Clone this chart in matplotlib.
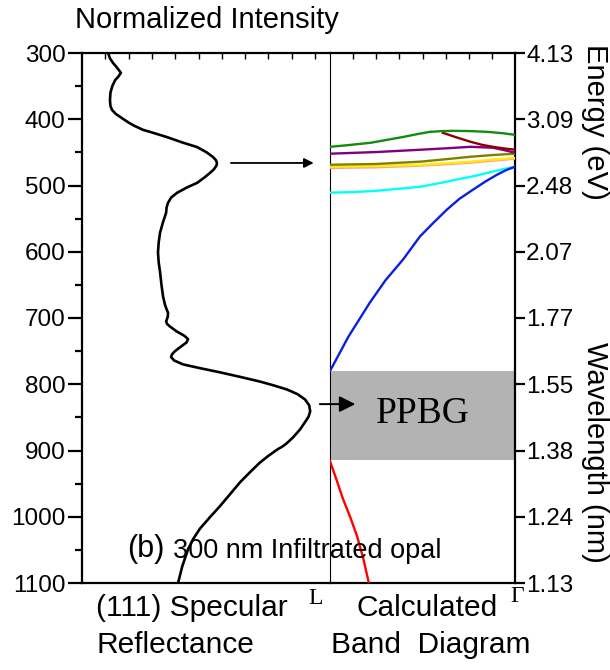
import matplotlib
matplotlib.use("Agg")
import matplotlib.pyplot as plt

plt.rcParams['font.family'] = ['Liberation Sans', 'DejaVu Sans']

# (111) specular reflectance: wavelength (nm) vs normalized intensity
refl_wl = [300, 308, 315, 322, 330, 336, 341, 350, 360, 371, 380, 386, 392, 398,
           405, 410, 416, 421, 427, 435, 442, 450, 457, 462, 466, 470, 476, 481,
           488, 496, 503, 511, 518, 526, 533, 541, 556, 571, 586, 601, 616, 631,
           650, 668, 680, 686, 692, 698, 705, 709, 713, 720, 727, 732, 737, 743,
           750, 755, 759, 764, 770, 776, 782, 789, 796, 802, 808, 815, 823, 832,
           841, 849, 857, 868, 880, 886, 890, 894, 898, 908, 918, 933, 948, 966,
           984, 1001, 1018, 1033, 1049, 1075, 1100]
refl_int = [0.112, 0.120, 0.133, 0.150, 0.167, 0.155, 0.142, 0.130, 0.122, 0.120,
            0.122, 0.129, 0.145, 0.170, 0.200, 0.225, 0.262, 0.310, 0.365, 0.430,
            0.494, 0.535, 0.562, 0.575, 0.579, 0.577, 0.565, 0.549, 0.525, 0.494,
            0.450, 0.408, 0.383, 0.369, 0.363, 0.361, 0.347, 0.335, 0.329, 0.326,
            0.329, 0.335, 0.341, 0.348, 0.356, 0.362, 0.369, 0.368, 0.361, 0.365,
            0.378, 0.405, 0.440, 0.455, 0.448, 0.425, 0.399, 0.386, 0.382, 0.395,
            0.433, 0.510, 0.592, 0.680, 0.764, 0.825, 0.880, 0.925, 0.957, 0.975,
            0.979, 0.972, 0.957, 0.936, 0.906, 0.888, 0.875, 0.860, 0.840, 0.800,
            0.764, 0.720, 0.678, 0.635, 0.592, 0.548, 0.506, 0.478, 0.455, 0.430,
            0.412]

# calculated bands, L (k=0) to Gamma (k=1), wavelength (nm)
green_k = [0, 0.10, 0.22, 0.31, 0.40, 0.47, 0.54, 0.60, 0.66, 0.75, 0.85, 0.93, 1.0]
green_wl = [441.6, 439.0, 435.5, 431.0, 426.5, 422.5, 419.0, 418.0, 417.5, 417.8,
            419.0, 421.0, 423.5]
maroon_k = [0.61, 0.68, 0.76, 0.82, 0.88, 0.94, 1.0]
maroon_wl = [420.5, 427.0, 434.0, 438.5, 441.6, 444.0, 446.0]
purple_k = [0, 0.25, 0.49, 0.62, 0.76, 0.88, 0.94, 1.0]
purple_wl = [452.0, 449.5, 446.0, 444.0, 441.6, 443.0, 446.5, 450.6]
olive_k = [0, 0.25, 0.49, 0.62, 0.76, 0.88, 1.0]
olive_wl = [468.7, 467.5, 464.0, 460.5, 456.6, 454.0, 452.0]
pink_k = [0, 0.25, 0.49, 0.62, 0.76, 0.88, 1.0]
pink_wl = [473.5, 472.5, 470.0, 468.0, 465.5, 462.5, 459.5]
yellow_k = [0, 0.25, 0.49, 0.62, 0.76, 0.88, 1.0]
yellow_wl = [471.7, 470.8, 468.7, 466.5, 464.0, 461.0, 458.3]
cyan_k = [0, 0.12, 0.25, 0.37, 0.49, 0.60, 0.70, 0.76, 0.82, 0.88, 0.94, 1.0]
cyan_wl = [510.8, 510.0, 508.0, 505.0, 501.8, 496.0, 490.0, 487.0, 483.0, 479.0,
           475.0, 471.7]
blue_k = [0, 0.10, 0.216, 0.30, 0.395, 0.486, 0.56, 0.632, 0.70, 0.773, 0.84,
          0.903, 0.95, 1.0]
blue_wl = [780.0, 728.0, 676.5, 643.0, 611.7, 577.0, 556.0, 536.4, 520.0, 506.3,
           494.0, 483.7, 477.0, 471.7]
red_k = [0, 0.035, 0.07, 0.11, 0.146, 0.18, 0.21]
red_wl = [916.0, 944.0, 973.0, 1001.0, 1029.0, 1063.0, 1100.0]
gap_wl = (780, 914)

wl_ticks = [300, 400, 500, 600, 700, 800, 900, 1000, 1100]
energy_labels = ["4.13", "3.09", "2.48", "2.07", "1.77", "1.55", "1.38", "1.24", "1.13"]

W, H = 610, 670
fig = plt.figure(figsize=(W / 100, H / 100), dpi=100)
axL = fig.add_axes([82 / W, 87 / H, (330 - 82) / W, 530 / H])
axR = fig.add_axes([330 / W, 87 / H, 185 / W, 530 / H])
axR.patch.set_alpha(0)

for ax in (axL, axR):
    ax.set_ylim(1100, 300)
    for s in ax.spines.values():
        s.set_linewidth(1.6)
    ax.xaxis.tick_top()
    ax.tick_params(axis="x", direction="in", length=4, width=1.0, labeltop=False)

axL.set_xlim(0, 1.064)
axL.set_xticks([0.1 * i for i in range(1, 11)])
axL.spines["right"].set_linewidth(0.8)
axL.set_yticks(wl_ticks)
axL.set_yticks(range(350, 1100, 100), minor=True)
axL.tick_params(axis="y", which="major", direction="out", length=10, width=1.6, labelsize=17.5, pad=2)
axL.tick_params(axis="y", which="minor", direction="out", length=5, width=1.6)
axL.plot(refl_int, refl_wl, color="black", lw=1.9, solid_joinstyle="round")

axR.set_xlim(0, 1)
axR.set_xticks([i / 8 for i in range(1, 8)])
axR.spines["left"].set_visible(False)
axR.yaxis.tick_right()
axR.set_yticks(wl_ticks)
axR.set_yticklabels(energy_labels)
axR.tick_params(axis="y", direction="out", length=7, width=1.6, labelsize=17.5, pad=1)

axR.axhspan(gap_wl[0], gap_wl[1], xmin=0.005, xmax=0.995, color="#b3b3b3", lw=0, zorder=1)
bands = [(cyan_k, cyan_wl, "#00ffff"), (blue_k, blue_wl, "#0a1ee6"),
         (pink_k, pink_wl, "#ff9aa2"), (yellow_k, yellow_wl, "#ffee00"),
         (olive_k, olive_wl, "#808000"), (purple_k, purple_wl, "#800080"),
         (maroon_k, maroon_wl, "#8b0000"), (green_k, green_wl, "#138a13"),
         (red_k, red_wl, "#ff0000")]
for k, wl, c in bands:
    axR.plot(k, wl, color=c, lw=1.7, zorder=3, solid_joinstyle="round")

axR.text(0.25, 845, "PPBG", family=["Liberation Serif"], fontsize=27, va="center", ha="left")

# arrows
axL.annotate("", xy=(1.006, 466), xytext=(0.627, 466), annotation_clip=False,
             arrowprops=dict(arrowstyle="-|>", color="black", lw=1.3, mutation_scale=14))
axR.annotate("", xy=(0.152, 830), xytext=(-0.07, 830), annotation_clip=False,
             arrowprops=dict(arrowstyle="-|>", color="black", lw=1.4, mutation_scale=24),
             zorder=5)

def ftext(x, y, s, **kw):
    fig.text(x / W, 1 - y / H, s, **kw)

ftext(75, 20, "Normalized Intensity", fontsize=21, ha="left", va="center")
ftext(127, 549, "(b)", fontsize=22, ha="left", va="center")
ftext(173, 551, "300 nm Infiltrated opal", fontsize=19.5, ha="left", va="center")
ftext(96, 608, "(111) Specular", fontsize=21.5, ha="left", va="center")
ftext(96, 645, "Reflectance", fontsize=21.5, ha="left", va="center")
ftext(427, 608, "Calculated", fontsize=21.5, ha="center", va="center")
ftext(431, 645, "Band  Diagram", fontsize=21.5, ha="center", va="center")
ftext(316, 598, "L", family=["Liberation Serif"], fontsize=17, ha="center", va="center")
ftext(517, 596, "\u0393", family=["Liberation Serif"], fontsize=17, ha="center", va="center")
ftext(595, 122, "Energy (eV)", fontsize=21, rotation=270, ha="center", va="center")
ftext(595, 452, "Wavelength (nm)", fontsize=21, rotation=270, ha="center", va="center")

fig.savefig("out.png", dpi=100)
